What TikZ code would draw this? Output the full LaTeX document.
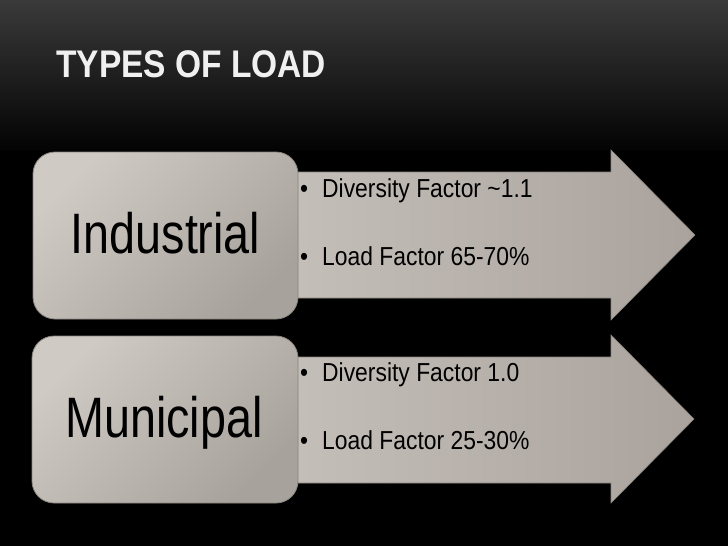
\documentclass[tikz,border=0pt]{standalone}
\usepackage{fontspec}
\setmainfont{Liberation Sans}
\newfontfamily\titlefont[FakeStretch=0.87]{Liberation Sans}
\newfontfamily\labelfont[FakeStretch=0.82]{Liberation Sans}
\newfontfamily\bulletfont[FakeStretch=0.88]{Liberation Sans}
\definecolor{bgtop}{HTML}{3A3A3A}
\definecolor{boxa}{HTML}{D0CAC5}
\definecolor{boxb}{HTML}{A8A29D}
\definecolor{arra}{HTML}{C6C0BA}
\definecolor{arrm}{HTML}{C9C3BD}
\definecolor{arrb}{HTML}{A9A29D}
\definecolor{edge}{HTML}{8A847F}
\definecolor{titlec}{HTML}{F0F0F0}
\tikzset{
  labelbox/.style={draw=edge, line width=0.8pt, rounded corners=22pt,
    left color=boxa, right color=boxb, shading angle=45},
  arrowbody/.style={draw=edge, line width=0.6pt,
    left color=arra, middle color=arrm, right color=arrb},
  bigtext/.style={inner sep=0pt, anchor=base, font=\labelfont\fontsize{57}{60}\selectfont, text=black},
  bullettext/.style={inner sep=0pt, anchor=base west, font=\bulletfont\fontsize{26}{28}\selectfont, text=black},
}
\begin{document}
\begin{tikzpicture}[x=1pt,y=-1pt]
\useasboundingbox (0,0) rectangle (728,546);
\fill[black] (0,0) rectangle (728,546);
\shade[top color=bgtop, bottom color=black!95!bgtop] (0,0) rectangle (728,150);
\node[inner sep=0pt, anchor=base west, text=titlec, font=\titlefont\bfseries\fontsize{38.5}{40}\selectfont] (title) at (56,77.5) {TYPES OF LOAD};
% Row 1
\path[arrowbody] (270,172) -- (611,172) -- (611,150) -- (695,235) -- (611,320) -- (611,298) -- (270,298) -- cycle;
\path[labelbox] (33,152) rectangle (298,319);
\node[bigtext] (ind) at (165.5,253) {Industrial};
\node[bullettext] (b1) at (300,197) {•\hspace{14pt}Diversity Factor \textasciitilde1.1};
\node[bullettext] (b2) at (300,265) {•\hspace{14pt}Load Factor 65-70\%};
% Row 2
\path[arrowbody] (270,357) -- (611,357) -- (611,335) -- (694,419) -- (611,503) -- (611,483) -- (270,483) -- cycle;
\path[labelbox] (32,336) rectangle (298,503);
\node[bigtext] (mun) at (164,437) {Municipal};
\node[bullettext] (b3) at (300,381) {•\hspace{14pt}Diversity Factor 1.0};
\node[bullettext] (b4) at (300,449) {•\hspace{14pt}Load Factor 25-30\%};
\end{tikzpicture}
\end{document}
